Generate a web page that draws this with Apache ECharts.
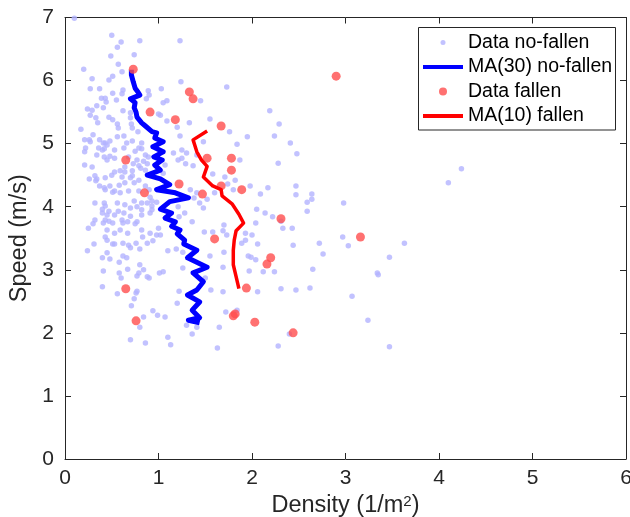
<!DOCTYPE html>
<html><head><meta charset="utf-8">
<script src="https://cdn.jsdelivr.net/npm/echarts@6/dist/echarts.min.js"></script>
<style>html,body{margin:0;padding:0;background:#fff}#c{width:630px;height:517px}</style>
</head><body><div id="c"></div>
<script>
const seriesNames = ['Data no-fallen', 'MA(30) no-fallen', 'Data fallen', 'MA(10) fallen'];
const xTicks = [0, 1, 2, 3, 4, 5, 6];
const yTicks = [0, 1, 2, 3, 4, 5, 6, 7];

const noFallen = [
[0.10,6.99],[0.50,6.72],[0.60,6.61],[0.56,6.53],[0.80,6.63],[1.23,6.63],[0.49,6.39],[0.74,6.41],[0.57,6.26],[0.20,6.18],
[0.61,6.14],[0.51,6.07],[0.29,6.03],[0.47,6.01],[1.24,5.98],[1.73,5.90],[0.27,5.87],[0.37,5.87],[0.62,5.85],[0.89,5.84],
[1.03,5.87],[0.61,5.79],[0.51,5.80],[0.90,5.77],[0.39,5.72],[0.43,5.72],[0.55,5.69],[0.87,5.71],[1.09,5.68],[1.05,5.65],
[1.45,5.68],[0.44,5.66],[0.34,5.60],[0.24,5.55],[0.29,5.53],[0.41,5.57],[0.62,5.52],[0.70,5.49],[1.00,5.47],[1.02,5.45],
[2.19,5.52],[0.27,5.45],[0.47,5.42],[0.33,5.41],[0.35,5.33],[0.51,5.38],[0.70,5.41],[1.09,5.36],[1.33,5.33],[1.55,5.39],
[2.29,5.31],[0.17,5.23],[0.56,5.31],[0.57,5.25],[0.71,5.31],[0.72,5.25],[0.78,5.19],[1.20,5.26],[1.76,5.19],
[1.95,5.11],[2.24,5.12],[1.48,5.03],[1.84,4.99],[2.41,5.01],[1.30,4.85],[2.48,4.84],[1.41,4.82],[1.29,4.68],[1.37,4.65],
[1.87,4.74],[2.28,4.69],[1.58,4.52],[1.71,4.47],[1.82,4.42],[1.34,4.27],[1.41,4.22],[1.60,4.22],[1.80,4.27],[1.74,4.36],
[1.98,4.33],[2.09,4.20],[2.17,4.30],[2.47,4.33],[2.47,4.19],[2.59,4.07],[2.64,4.20],[2.64,4.12],[2.98,4.06],[1.38,4.14],
[1.44,4.06],[1.52,4.12],[1.48,3.98],[2.05,3.96],[2.14,3.90],[2.22,3.84],[2.59,3.93],[1.07,4.66],[1.05,4.53],[1.21,4.00],
[1.28,3.90],[1.22,3.84],[1.16,4.85],[1.21,4.74],[4.10,4.38],[4.24,4.60],
[0.21,5.06],[0.26,5.06],[0.30,5.14],[0.37,5.06],[0.43,5.01],[0.48,5.04],[0.56,5.11],[0.63,5.12],[0.72,5.04],[0.82,5.01],
[0.21,4.66],[0.29,4.63],[0.22,4.93],[0.36,4.93],[0.42,4.92],[0.53,4.90],[0.63,4.93],[0.75,4.88],[0.82,4.92],[0.86,4.82],
[0.42,4.79],[0.45,4.74],[0.53,4.77],[0.68,4.79],[0.77,4.74],[0.84,4.72],[0.32,4.49],[0.34,4.44],[0.43,4.46],[0.50,4.50],
[0.53,4.55],[0.64,4.55],[0.72,4.57],[0.72,4.49],[0.79,4.65],[0.86,4.58],[0.48,4.33],[0.58,4.34],[0.64,4.38],[0.74,4.38],
[0.79,4.42],[0.86,4.33],[0.37,4.33],[0.42,4.30],[0.53,4.25],[0.59,4.22],[0.68,4.25],[0.79,4.25],[0.90,4.27],[0.32,4.06],
[0.42,4.06],[0.43,4.01],[0.56,4.06],[0.64,4.03],[0.74,4.09],[0.82,4.06],[0.93,4.09],[0.93,4.01],[0.40,3.90],[0.47,3.93],
[0.53,3.87],[0.63,3.90],[0.70,3.85],[0.82,3.87],[0.91,3.90],[0.32,3.79],[0.47,3.77],[1.23,5.12],[1.25,4.90],[1.25,4.77],
[0.91,4.15],[0.98,4.07],[0.77,4.00],[0.57,3.93],[0.61,3.79],[0.48,4.80],[0.33,4.41],[0.70,4.46],[0.51,4.23],[0.89,4.79],
[0.88,4.68],[0.66,5.01],[0.41,5.01],[0.27,5.03],[0.64,4.63],[0.59,4.57],[0.81,4.61],[0.73,4.68],[0.45,4.98],[0.40,4.90],
[0.79,4.93],[0.21,4.87],[0.34,4.82],[0.26,4.44],[0.61,4.47],[0.43,4.27],[0.88,4.06],[0.40,3.96],[0.70,3.98],[0.82,3.95],
[0.93,3.95],[0.45,3.87],[0.43,3.79],
[0.30,3.73],[0.41,3.74],[0.51,3.74],[0.62,3.74],[0.67,3.76],[0.75,3.73],[0.77,3.76],[1.00,3.66],[1.36,3.76],[1.70,3.71],
[1.69,3.62],[2.04,3.74],[2.31,3.77],[2.33,3.66],[2.43,3.66],[0.53,3.58],[0.67,3.58],[0.83,3.52],[0.91,3.58],[0.98,3.55],
[1.02,3.55],[1.49,3.60],[1.58,3.60],[1.73,3.55],[1.93,3.58],[2.00,3.55],[2.97,3.52],[0.43,3.52],[0.45,3.47],[0.31,3.41],
[0.51,3.41],[0.53,3.41],[0.62,3.42],[0.68,3.39],[0.76,3.42],[0.88,3.42],[0.94,3.46],[1.93,3.47],[1.89,3.42],[2.06,3.41],
[2.44,3.39],[2.72,3.42],[3.03,3.38],[0.24,3.30],[0.80,3.33],[1.10,3.30],[1.19,3.33],[1.26,3.28],[1.55,3.22],[1.70,3.28],
[1.96,3.22],[1.99,3.20],[2.04,3.16],[2.76,3.25],[0.45,3.27],[0.40,3.19],[0.48,3.17],[0.58,3.12],[0.62,3.22],[0.66,3.19],
[0.80,3.08],[1.69,3.04],[2.12,2.97],[2.24,2.97],[2.65,3.01],[0.41,2.98],[0.58,2.95],[0.67,3.01],[0.77,2.90],[0.79,2.95],
[0.84,3.00],[0.88,2.89],[1.01,2.95],[1.05,2.97],[1.50,2.87],[0.60,2.87],[1.97,2.98],[0.40,2.73],[0.56,2.62],[0.76,2.63],
[0.77,2.66],[1.22,2.66],[1.56,2.68],[1.69,2.65],[2.06,2.65],[2.31,2.70],[2.47,2.68],[2.62,2.71],[3.07,2.58],[0.74,2.54],
[0.71,2.43],[1.20,2.47],[0.94,2.35],[0.99,2.28],[0.84,2.25],[1.07,2.25],[1.72,2.33],[1.84,2.36],[0.80,2.09],[1.30,2.12],
[1.41,2.09],[1.65,2.09],[1.36,1.98],[1.10,1.93],[0.70,1.89],[0.86,1.84],[1.13,1.81],[1.63,1.76],[2.28,1.79],[2.40,1.98],
[0.25,3.66],[0.45,3.63],[0.59,3.63],[0.82,3.63],[3.63,3.42],[3.47,3.20],[3.34,2.95],[3.35,2.92],[3.24,2.20],[3.47,1.78],
[0.70,3.35],[1.26,3.03],[0.90,2.87]
];

const ma30 = [
[0.71,6.17],[0.71,6.09],[0.73,5.98],[0.75,5.88],[0.78,5.82],[0.80,5.77],[0.70,5.71],[0.75,5.65],[0.74,5.57],[0.76,5.50],
[0.77,5.42],[0.82,5.33],[0.86,5.28],[0.88,5.25],[0.93,5.19],[0.98,5.17],[0.96,5.09],[1.05,5.03],[0.94,4.95],[1.05,4.87],
[0.95,4.79],[1.04,4.74],[0.96,4.66],[1.02,4.58],[0.88,4.50],[1.02,4.44],[1.12,4.35],[0.98,4.27],[1.18,4.22],[1.32,4.14],
[1.12,4.08],[1.02,3.96],[1.14,3.90],[1.07,3.82],[1.18,3.76],[1.14,3.69],[1.23,3.63],[1.20,3.57],[1.28,3.47],[1.27,3.41],
[1.41,3.31],[1.31,3.19],[1.52,3.04],[1.37,2.95],[1.48,2.81],[1.41,2.68],[1.31,2.60],[1.44,2.49],[1.36,2.36],[1.44,2.24],
[1.32,2.20],[1.44,2.16]
];

const fallen = [
[0.73,6.18],[2.90,6.07],[1.33,5.82],[1.37,5.71],[0.91,5.50],[1.18,5.38],[1.67,5.28],[0.65,4.74],[1.52,4.77],[1.78,4.77],
[1.78,4.58],[1.22,4.36],[1.67,4.33],[0.85,4.22],[1.47,4.20],[1.89,4.27],[2.31,3.81],[1.60,3.49],[3.16,3.52],[2.20,3.19],
[2.16,3.09],[1.94,2.71],[0.65,2.70],[0.76,2.19],[1.80,2.27],[1.82,2.30],[2.03,2.17],[2.44,2.00]
];

const ma10 = [
[1.52,5.20],[1.37,5.06],[1.41,4.87],[1.46,4.74],[1.52,4.64],[1.48,4.47],[1.58,4.33],[1.67,4.27],[1.68,4.17],[1.79,4.04],
[1.86,3.88],[1.91,3.74],[1.83,3.62],[1.81,3.47],[1.80,3.31],[1.80,3.08],[1.83,2.89],[1.86,2.70]
];

const ink = '#262626';
const font = "'Liberation Sans', Arial, Helvetica, sans-serif";

function axisCommon(min, max, interval, showLabel) {
  return {
    type: 'value', min: min, max: max, interval: interval,
    axisLine: { show: true, onZero: false, lineStyle: { color: ink, width: 1 } },
    axisTick: { show: true, inside: true, length: 6, lineStyle: { color: ink, width: 1 } },
    axisLabel: { show: showLabel, color: ink, fontSize: 21, fontFamily: font },
    splitLine: { show: false }
  };
}

const xMain = Object.assign(axisCommon(xTicks[0], xTicks[xTicks.length - 1], xTicks[1] - xTicks[0], true), {
  position: 'bottom',
  name: 'Density (1/m{sup|2})', nameLocation: 'middle', nameGap: 30,
  nameTextStyle: { color: ink, fontSize: 23.5, fontFamily: font,
    rich: { sup: { fontSize: 15, fontFamily: font, color: ink, verticalAlign: 'top', lineHeight: 15 } } }
});
xMain.axisLabel.margin = 9;
const xTop = Object.assign(axisCommon(xTicks[0], xTicks[xTicks.length - 1], xTicks[1] - xTicks[0], false), { position: 'top' });
const yMain = Object.assign(axisCommon(yTicks[0], yTicks[yTicks.length - 1], yTicks[1] - yTicks[0], true), {
  position: 'left',
  name: 'Speed (m/s)', nameLocation: 'middle', nameGap: 29,
  nameTextStyle: { color: ink, fontSize: 23.5, fontFamily: font }
});
yMain.axisLabel.margin = 11;
const yRight = Object.assign(axisCommon(yTicks[0], yTicks[yTicks.length - 1], yTicks[1] - yTicks[0], false), { position: 'right' });

const rowCenters = [42.5, 67, 91.5, 116];
const iconLeft = 423, iconWidth = 40;
function legendFor(i, h, isDot) {
  return {
    data: [{ name: seriesNames[i], icon: isDot ? 'circle' : 'rect' }],
    left: isDot ? iconLeft + iconWidth / 2 - h / 2 : iconLeft,
    top: rowCenters[i] - 11, padding: 0,
    itemWidth: iconWidth, itemHeight: h, z: 11, selectedMode: false,
    textStyle: { fontSize: 19.5, color: '#000', fontFamily: font, lineHeight: 22 }
  };
}

const chart = echarts.init(document.getElementById('c'), null, { renderer: 'canvas' });
chart.setOption({
  backgroundColor: '#fff',
  animation: false,
  grid: { left: 65, right: 4, top: 17.5, bottom: 58, containLabel: false, outerBoundsMode: 'none' },
  xAxis: [xMain, xTop],
  yAxis: [yMain, yRight],
  legend: [legendFor(0, 5, true), legendFor(1, 4, false), legendFor(2, 8, true), legendFor(3, 4, false)],
  graphic: [{
    type: 'rect', z: 10,
    shape: { x: 418.5, y: 27.5, width: 197, height: 102.5 },
    style: { fill: '#fff', stroke: ink, lineWidth: 1 }
  }],
  series: [
    { name: seriesNames[0], type: 'scatter', data: noFallen, symbol: 'circle', symbolSize: 5.5,
      itemStyle: { color: '#b3b3ff' }, xAxisIndex: 0, yAxisIndex: 0, z: 2 },
    { name: seriesNames[1], type: 'line', data: ma30, symbol: 'none', showSymbol: false,
      lineStyle: { color: '#0000ff', width: 5, join: 'round' }, itemStyle: { color: '#0000ff' },
      xAxisIndex: 0, yAxisIndex: 0, z: 3 },
    { name: seriesNames[2], type: 'scatter', data: fallen, symbol: 'circle', symbolSize: 9,
      itemStyle: { color: '#ff4d4d' }, xAxisIndex: 0, yAxisIndex: 0, z: 4 },
    { name: seriesNames[3], type: 'line', data: ma10, symbol: 'none', showSymbol: false,
      lineStyle: { color: '#ff0000', width: 3.5, join: 'round' }, itemStyle: { color: '#ff0000' },
      xAxisIndex: 0, yAxisIndex: 0, z: 5 }
  ]
});
</script>
</body></html>
